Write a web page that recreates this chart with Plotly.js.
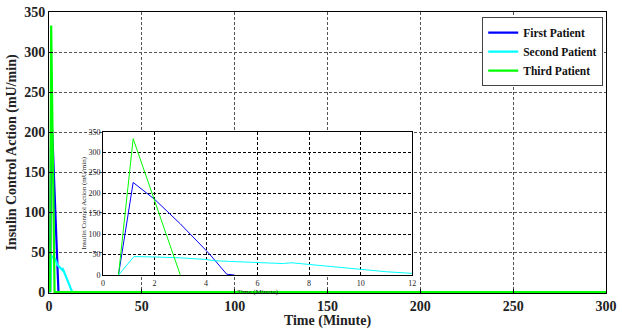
<!DOCTYPE html>
<html>
<head>
<meta charset="utf-8">
<script src="https://cdn.plot.ly/plotly-3.0.1.min.js"></script>
<style>html,body{margin:0;padding:0;background:#fff;}#chart{width:622px;height:329px;}</style>
</head>
<body>
<div id="chart"></div>
<script>
// Series names
const seriesNames = ["First Patient", "Second Patient", "Third Patient"];
const seriesColors = ["#0000ff", "#00ffff", "#00ff00"];

// First patient (time in minutes, insulin mU/min)
const firstTime = [0.6, 1.17, 2, 3, 4, 4.15, 4.8, 5.1];
const firstInsulin = [0, 226, 185, 125, 60, 50, 2, 0];

// Second patient
const secondTime = [0.6, 1.2, 2, 3, 4, 4.3, 5, 6, 7, 7.3, 8, 9, 10, 11, 12, 12.5];
const secondInsulin = [0, 45, 44, 42, 38, 35, 33, 31, 28, 30, 26, 20, 13, 8, 4, 0];

// Third patient
const thirdTime = [0.6, 1.17, 3, 300];
const thirdInsulin = [0, 333, 0, 0];

const xTicksMain = [0, 50, 100, 150, 200, 250, 300];
const yTicks = [0, 50, 100, 150, 200, 250, 300, 350];
const xTicksInset = [0, 2, 4, 6, 8, 10, 12];
const insetMaxTime = 13;

const times = [firstTime, secondTime, thirdTime];
const values = [firstInsulin, secondInsulin, thirdInsulin];

const traces = [];
for (let i = 0; i < 3; i++) {
  traces.push({
    x: times[i], y: values[i], type: 'scatter', mode: 'lines',
    name: seriesNames[i], line: {color: seriesColors[i], width: 2.2},
    xaxis: 'x', yaxis: 'y', showlegend: true
  });
}
for (let i = 0; i < 3; i++) {
  const xs = [], ys = [];
  times[i].forEach((t, k) => { if (t <= insetMaxTime) { xs.push(t); ys.push(values[i][k]); } });
  traces.push({
    x: xs, y: ys, type: 'scatter', mode: 'lines',
    name: seriesNames[i], line: {color: seriesColors[i], width: 1},
    xaxis: 'x2', yaxis: 'y2', showlegend: false
  });
}

const serif = 'Liberation Serif, Times New Roman, serif';
const mainTick = {family: serif, size: 14, color: '#222', weight: 'bold'};
const insetTick = {family: serif, size: 8, color: '#222'};

const layout = {
  width: 622, height: 329,
  margin: {l: 49, r: 16, t: 12, b: 36},
  paper_bgcolor: '#fff', plot_bgcolor: '#fff',
  showlegend: true,
  legend: {
    x: 0.995, xanchor: 'right', y: 0.982, yanchor: 'top',
    bgcolor: '#fff', bordercolor: '#444', borderwidth: 1,
    font: {family: serif, size: 11.5, color: '#111', weight: 'bold'},
    tracegroupgap: 0, itemwidth: 30
  },
  xaxis: {
    domain: [0, 1], range: [0, 300], tickvals: xTicksMain, ticktext: xTicksMain.map(String),
    showgrid: true, gridcolor: '#555', griddash: '3px,2px', gridwidth: 1,
    showline: true, linecolor: '#000', linewidth: 1, mirror: true,
    ticks: 'inside', ticklen: 4, tickcolor: '#000', zeroline: false,
    tickfont: mainTick,
    title: {text: 'Time (Minute)', font: {family: serif, size: 14, color: '#222', weight: 'bold'}, standoff: 0}
  },
  yaxis: {
    domain: [0, 1], range: [-1, 350], tickvals: yTicks, ticktext: yTicks.map(String),
    showgrid: true, gridcolor: '#555', griddash: '3px,2px', gridwidth: 1,
    showline: true, linecolor: '#000', linewidth: 1, mirror: true,
    ticks: 'inside', ticklen: 4, tickcolor: '#000', zeroline: false,
    tickfont: mainTick,
    title: {text: 'Insulin Control Action (mU/min)', font: {family: serif, size: 14, color: '#222', weight: 'bold'}, standoff: 4}
  },
  xaxis2: {
    domain: [0.097, 0.652], range: [0, 12], anchor: 'y2', tickvals: xTicksInset, ticktext: xTicksInset.map(String),
    showgrid: true, gridcolor: '#000', griddash: '3px,2px', gridwidth: 1,
    showline: true, linecolor: '#000', linewidth: 1, mirror: true,
    ticks: 'inside', ticklen: 2, tickcolor: '#000', zeroline: false,
    tickfont: insetTick,
    title: {text: 'Time (Minute)', font: {family: serif, size: 7, color: '#222'}, standoff: 0}
  },
  yaxis2: {
    domain: [0.064, 0.574], range: [0, 350], anchor: 'x2', tickvals: yTicks, ticktext: yTicks.map(String),
    showgrid: true, gridcolor: '#000', griddash: '3px,2px', gridwidth: 1,
    showline: true, linecolor: '#000', linewidth: 1, mirror: true,
    ticks: 'inside', ticklen: 2, tickcolor: '#000', zeroline: false,
    tickfont: insetTick,
    title: {text: 'Insulin Control Action (mU/min)', font: {family: serif, size: 7, color: '#222'}, standoff: 0}
  }
};

Plotly.newPlot('chart', traces, layout, {displayModeBar: false, staticPlot: true});
</script>
</body>
</html>
